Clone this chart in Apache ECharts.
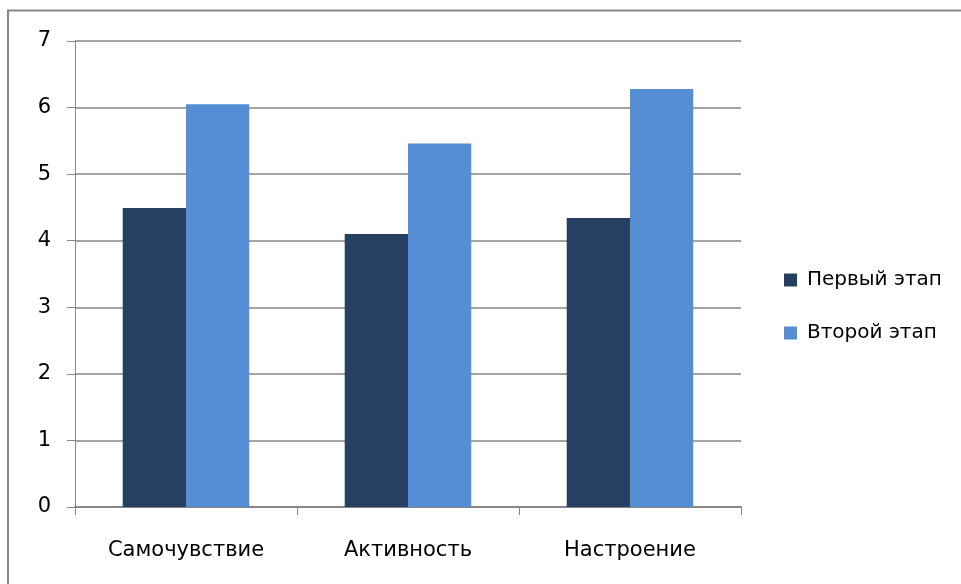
<!DOCTYPE html>
<html>
<head>
<meta charset="utf-8">
<script src="https://cdn.jsdelivr.net/npm/echarts@6/dist/echarts.min.js"></script>
<style>
  html, body { margin: 0; padding: 0; background: #fff; }
  #chart { width: 961px; height: 584px; }
</style>
</head>
<body>
<div id="chart"></div>
<script>
const categories = ['Самочувствие', 'Активность', 'Настроение'];
const firstStage = [4.49, 4.1, 4.34];
const secondStage = [6.05, 5.46, 6.28];
const seriesNames = ['Первый этап', 'Второй этап'];

const chart = echarts.init(document.getElementById('chart'));
const font = 'DejaVu Sans';

const option = {
  animation: false,
  textStyle: { fontFamily: font },
  graphic: [
    {
      type: 'rect',
      shape: { x: 8, y: 10.5, width: 1000, height: 700 },
      style: { fill: 'none', stroke: '#888888', lineWidth: 2 },
      silent: true
    }
  ],
  grid: { left: 75, right: 220, top: 41, bottom: 77 },
  legend: {
    orient: 'vertical',
    left: 779,
    top: 265,
    itemWidth: 13,
    itemHeight: 13,
    itemGap: 33,
    icon: 'rect',
    textStyle: { fontFamily: font, fontSize: 20, color: '#000', padding: [0, 0, 0, 5] },
    data: seriesNames
  },
  xAxis: {
    type: 'category',
    data: categories,
    axisLine: { lineStyle: { color: '#868686', width: 2 } },
    axisTick: { show: true, length: 8, lineStyle: { color: '#868686', width: 1 } },
    axisLabel: { fontFamily: font, fontSize: 21, color: '#000', margin: 33 }
  },
  yAxis: {
    type: 'value',
    min: 0,
    max: 7,
    interval: 1,
    axisLine: { show: true, lineStyle: { color: '#868686', width: 1 } },
    axisTick: { show: true, length: 8, lineStyle: { color: '#868686' } },
    axisLabel: { fontFamily: font, fontSize: 21, color: '#000', margin: 24 },
    splitLine: { lineStyle: { color: '#868686', width: 1.5 } }
  },
  series: [
    {
      name: seriesNames[0],
      type: 'bar',
      data: firstStage,
      itemStyle: { color: '#264064' },
      barGap: '0%',
      barCategoryGap: '43%'
    },
    {
      name: seriesNames[1],
      type: 'bar',
      data: secondStage,
      itemStyle: { color: '#558ed5' },
      barGap: '0%',
      barCategoryGap: '43%'
    }
  ]
};

chart.setOption(option);
</script>
</body>
</html>
